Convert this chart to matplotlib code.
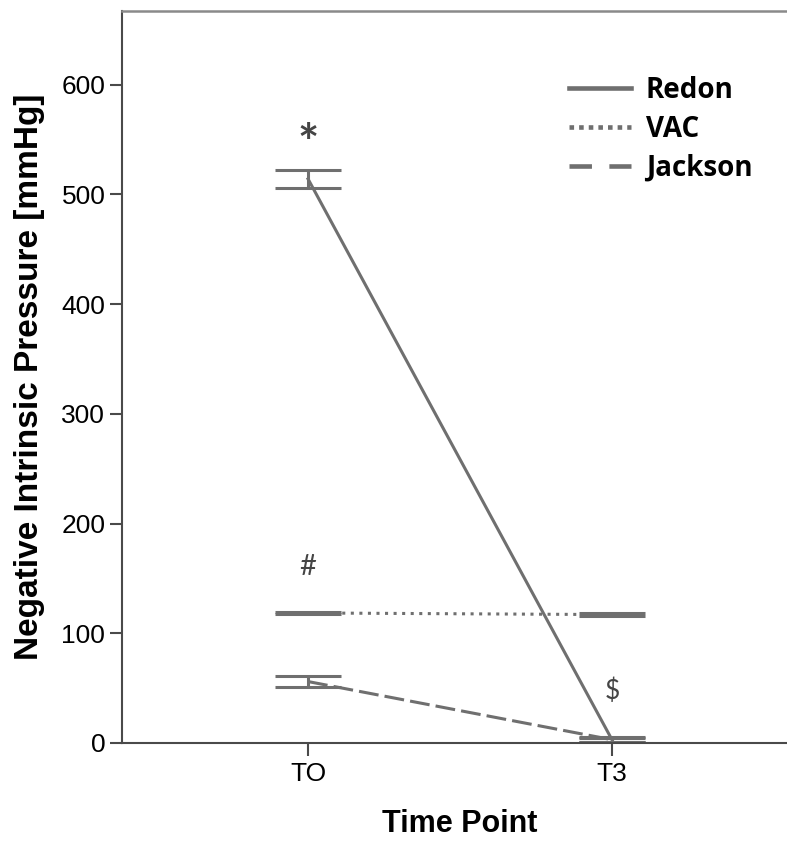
import matplotlib
matplotlib.use("Agg")
import matplotlib.pyplot as plt
from matplotlib.lines import Line2D

# group means and error half-widths at each time point
time_points = ["TO", "T3"]
redon_mean = [514, 3]
redon_err = [8, 2.5]
vac_mean = [118.5, 117]
vac_err = [1.1, 1.1]
jackson_mean = [56, 3]
jackson_err = [5.3, 2]

group_names = ["Redon", "VAC", "Jackson"]
marks = ["*", "#", "$"]
mark_x = [0, 0, 1]
mark_y = [544, 160, 47]

grey = "#6f6f6f"
plt.rcParams["font.family"] = ["Liberation Sans", "DejaVu Sans"]

fig = plt.figure(figsize=(7.87, 8.41), dpi=100)
ax = fig.add_axes([122 / 787, 98 / 841, 676 / 787, 732 / 841])

x = list(range(len(time_points)))
err_kw = dict(color=grey, lw=2.2, capsize=23.5, capthick=2.2, elinewidth=2.2)
ax.errorbar(x, redon_mean, yerr=redon_err, ls="-", **err_kw)
ax.errorbar(x, vac_mean, yerr=vac_err, ls=(0, (1, 1.8)), **err_kw)
ax.errorbar(x, jackson_mean, yerr=jackson_err, ls=(0, (6.5, 2)), **err_kw)

mark_sizes = [36, 21, 19]
mark_weights = ["bold", "normal", "normal"]
for m, mx, my, fs, fw in zip(marks, mark_x, mark_y, mark_sizes, mark_weights):
    ax.text(mx, my, m, ha="center", va="center", fontsize=fs, fontweight=fw,
            color="#454545", family=["Lato", "DejaVu Sans"])

ax.set_xlim(-0.612, 1.612)
ax.set_ylim(0, 667)
ax.set_xticks(x)
ax.set_xticklabels(time_points)
ax.set_yticks(range(0, 700, 100))

ax.spines["right"].set_visible(False)
ax.spines["top"].set_color("#8a8a8a")
ax.spines["top"].set_linewidth(1.8)
for s in ["left", "bottom"]:
    ax.spines[s].set_color("#4a4a4a")
    ax.spines[s].set_linewidth(1.5)
ax.tick_params(axis="y", length=8.5, width=1.5, color="#4a4a4a",
               labelsize=19, pad=3.5)
ax.tick_params(axis="x", length=9.5, width=1.5, color="#4a4a4a",
               labelsize=19, pad=4)

ax.set_ylabel("Negative Intrinsic Pressure [mmHg]", fontsize=24,
              fontweight="bold", labelpad=12)
ax.set_xlabel("Time Point", fontsize=22, fontweight="bold", labelpad=17)

handles = [
    Line2D([], [], color=grey, lw=3.3, ls="-"),
    Line2D([], [], color=grey, lw=3.3, ls=(0, (1, 1.1))),
    Line2D([], [], color=grey, lw=3.3, ls=(0, (4.9, 3.8))),
]
leg = ax.legend(handles, group_names, loc="upper left",
                bbox_to_anchor=(569 / 787, 1 - 76 / 841),
                bbox_transform=fig.transFigure, frameon=False,
                borderpad=0, borderaxespad=0, handlelength=2.23,
                handletextpad=0.54, labelspacing=0.36,
                prop={"family": ["Open Sans", "DejaVu Sans"],
                      "weight": "bold", "size": 20})

fig.savefig("out.png", dpi=100)
